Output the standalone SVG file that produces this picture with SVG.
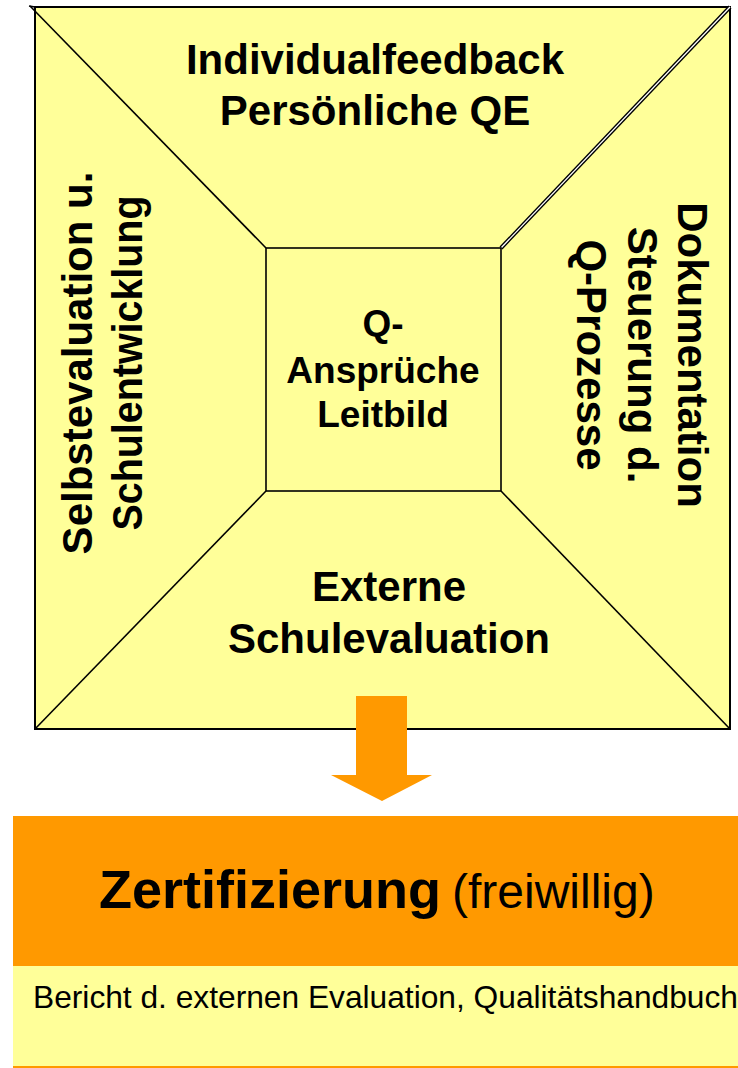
<svg xmlns="http://www.w3.org/2000/svg" width="738" height="1068" viewBox="0 0 738 1068">
<style>
.lbl{font-family:"Liberation Sans",Arial,sans-serif;font-weight:bold;font-size:42px;fill:#000;text-anchor:middle}
.ctr{font-family:"Liberation Sans",Arial,sans-serif;font-weight:bold;font-size:37px;fill:#000;text-anchor:middle}
.edge{stroke:#000;stroke-width:1.6;fill:none}
</style>
<rect width="738" height="1068" fill="#fff"/>
<g id="frame">
<rect x="35" y="7" width="695" height="722" fill="#FFFF99" stroke="#000" stroke-width="2"/>
<line x1="29" y1="6" x2="35" y2="7" stroke="#000" stroke-width="1.5"/>
</g>
<g id="connectors">
<line class="edge" x1="30" y1="6" x2="266" y2="248"/>
<line x1="730" y1="7" x2="501" y2="248" stroke="#000" stroke-width="4"/>
<line x1="730" y1="7" x2="501" y2="248" stroke="#fff" stroke-width="1.3"/>
<line class="edge" x1="35" y1="729" x2="266" y2="491"/>
<line class="edge" x1="730" y1="729" x2="501" y2="491"/>
</g>
<g id="center">
<rect x="266" y="248" width="235" height="243" fill="#FFFF99" stroke="#000" stroke-width="1.6"/>
<text class="ctr" x="383" y="336">Q-</text>
<text class="ctr" x="383" y="383">Ansprüche</text>
<text class="ctr" x="383" y="427">Leitbild</text>
</g>
<g id="top">
<text class="lbl" x="375" y="74">Individualfeedback</text>
<text class="lbl" x="375" y="125">Persönliche QE</text>
</g>
<g id="left" transform="translate(92,363) rotate(-90)">
<text class="lbl" x="0" y="0">Selbstevaluation u.</text>
<text class="lbl" x="0" y="50" textLength="335" lengthAdjust="spacingAndGlyphs">Schulentwicklung</text>
</g>
<g id="right" transform="translate(678,355) rotate(90)">
<text class="lbl" x="0" y="0">Dokumentation</text>
<text class="lbl" x="0" y="50">Steuerung d.</text>
<text class="lbl" x="0" y="101">Q-Prozesse</text>
</g>
<g id="bottom">
<text class="lbl" x="389" y="601">Externe</text>
<text class="lbl" x="389" y="653">Schulevaluation</text>
</g>
<g id="arrow">
<polygon points="356,696 407,696 407,775 432,775 382,801 331,775 356,775" fill="#FF9900"/>
</g>
<g id="zertifizierung">
<rect x="13" y="816" width="725" height="150" fill="#FF9900"/>
<text y="908" font-family="'Liberation Sans',Arial,sans-serif" fill="#000"><tspan x="99" font-weight="bold" font-size="54">Zertifizierung</tspan><tspan x="452" font-size="48">(freiwillig)</tspan></text>
</g>
<g id="bericht">
<rect x="13" y="966" width="725" height="100" fill="#FFFF99"/>
<rect x="13" y="1066" width="725" height="2" fill="#FF9900"/>
<text x="33" y="1008" font-family="'Liberation Sans',Arial,sans-serif" font-size="31.5" fill="#000" textLength="705" lengthAdjust="spacingAndGlyphs">Bericht d. externen Evaluation, Qualitätshandbuch</text>
</g>
</svg>
